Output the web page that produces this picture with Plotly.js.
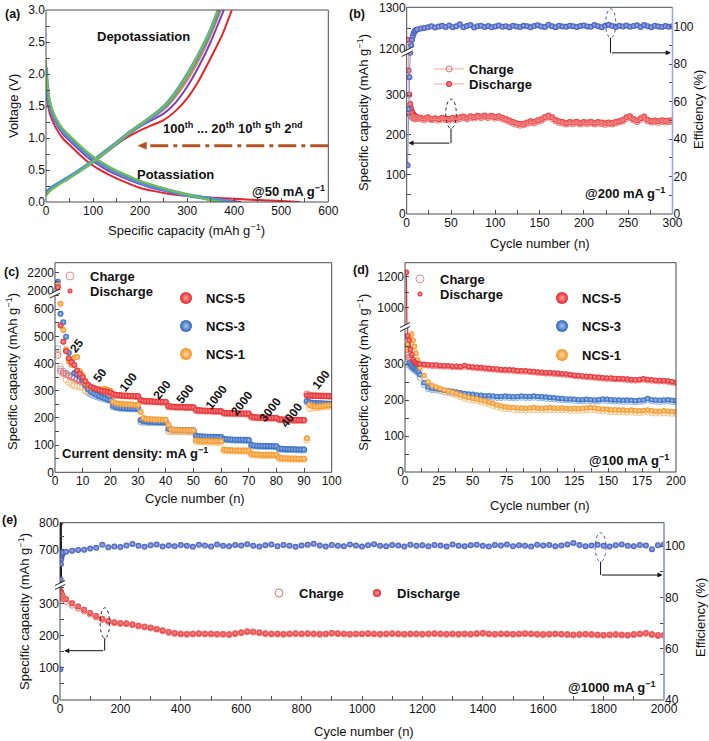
<!DOCTYPE html>
<html><head><meta charset="utf-8">
<script src="https://cdn.plot.ly/plotly-3.0.1.min.js"></script>
<style>html,body{margin:0;padding:0;background:#fff}#chart{width:709px;height:741px}</style>
</head><body><div id="chart"></div>
<script>
// ================= DATA =================
// (a) galvanostatic profiles @50 mA g-1 : capacity (mAh g-1) vs voltage (V)
const aRedDisCap=[0,2,5,10,20,35,50,70,90,110,130,150,175,200,230,260,300,350,400,450,500,540];
const aRedDisV=[1.8,1.62,1.48,1.34,1.17,1.0,0.89,0.75,0.62,0.52,0.44,0.37,0.29,0.22,0.17,0.13,0.095,0.07,0.05,0.03,0.015,0.0];
const aPurDisCap=[0,2,5,10,20,35,50,70,90,110,130,150,175,200,230,260,300,340,380,415];
const aPurDisV=[2.0,1.75,1.58,1.42,1.24,1.07,0.96,0.82,0.69,0.59,0.5,0.43,0.35,0.28,0.21,0.16,0.1,0.06,0.03,0.0];
const aOrgDisCap=[0,2,5,10,20,35,50,70,90,110,130,150,175,200,230,260,300,340,375,400];
const aOrgDisV=[2.05,1.78,1.6,1.45,1.27,1.1,0.99,0.85,0.72,0.62,0.53,0.45,0.37,0.3,0.23,0.17,0.1,0.055,0.02,0.0];
const aBluDisCap=[0,2,5,10,20,35,50,70,90,110,130,150,175,200,230,260,300,340,375,395];
const aBluDisV=[2.1,1.82,1.63,1.47,1.29,1.12,1.01,0.87,0.74,0.64,0.55,0.47,0.39,0.31,0.24,0.18,0.11,0.06,0.02,0.0];
const aGrnDisCap=[0,2,5,10,20,35,50,70,90,110,130,150,175,200,230,260,300,330,355,375];
const aGrnDisV=[2.22,1.9,1.7,1.52,1.33,1.15,1.04,0.9,0.77,0.66,0.57,0.49,0.41,0.33,0.26,0.19,0.12,0.06,0.02,0.0];
const aRedChgCap=[0,10,25,50,75,100,125,150,175,200,225,250,275,300,325,350,375,395];
const aRedChgV=[0.13,0.2,0.27,0.38,0.5,0.62,0.76,0.9,1.02,1.12,1.2,1.28,1.42,1.62,1.9,2.25,2.62,3.0];
const aPurChgCap=[0,10,25,50,75,100,125,150,175,200,225,250,275,300,325,350,378];
const aPurChgV=[0.15,0.22,0.29,0.4,0.52,0.64,0.78,0.92,1.06,1.18,1.28,1.38,1.55,1.8,2.12,2.5,3.0];
const aOrgChgCap=[0,10,25,50,75,100,125,150,175,200,225,250,275,300,325,350,372];
const aOrgChgV=[0.14,0.21,0.28,0.39,0.51,0.64,0.78,0.92,1.07,1.19,1.31,1.44,1.64,1.9,2.22,2.6,3.0];
const aBluChgCap=[0,10,25,50,75,100,125,150,175,200,225,250,275,300,325,350,367];
const aBluChgV=[0.14,0.21,0.28,0.39,0.51,0.64,0.78,0.92,1.07,1.2,1.33,1.48,1.7,1.98,2.3,2.68,3.0];
const aGrnChgCap=[0,10,25,50,75,100,125,150,175,200,225,250,275,300,325,350,365];
const aGrnChgV=[0.1,0.18,0.26,0.38,0.5,0.63,0.77,0.92,1.07,1.21,1.34,1.49,1.7,1.98,2.32,2.7,3.0];

// cycle index helper (cycle numbers only)
function seq(a,b,s){const r=[];for(let v=a;v<=b+1e-9;v+=s)r.push(v);return r;}

// (b) cycling @200 mA g-1
const bCyc=seq(1,10,1).concat(seq(12,300,4));
const bDis=[1222,362,302,278,266,258,254,250,248,246,
245,243,241,244,240,242,239,243,241,240,
243,241,244,246,243,247,245,248,246,249,
246,248,245,247,243,240,236,232,229,227,
228,231,234,233,237,239,245,249,244,238,
234,232,230,232,231,233,230,232,231,233,
230,232,231,229,231,230,233,235,238,244,
247,240,236,242,246,238,235,236,234,237,
235,236,237];
const bChg=[262,258,254,250,247,245,243,242,241,240,
242,240,238,241,238,239,237,240,238,237,
240,238,241,243,240,244,242,245,243,246,
243,245,242,244,240,237,233,229,226,224,
225,228,231,230,234,236,242,246,241,235,
231,229,227,229,228,230,227,229,228,230,
227,229,228,226,228,227,230,232,235,241,
244,237,233,239,243,235,232,233,231,234,
232,233,234];
const bEff=[26,56,73,86,90,93,95,96.5,97.5,98,
98.5,99,99.3,99.6,100.2,99.5,100,100.4,99.8,100.6,
99.7,100.2,101.2,99.6,100.3,100.8,99.5,100.2,100.5,99.8,
100.3,99.6,100.1,100.6,99.9,100.2,99.7,100.4,100.1,99.8,
100.5,100.2,99.6,100.3,100.7,100.1,99.8,101,100.2,99.7,
100.4,100.1,99.9,100.5,100.2,99.8,100.3,100.6,100.1,99.9,
100.8,100.2,99.7,100.4,101,100.3,99.8,100.5,100.1,100.6,
99.9,100.3,100.7,99.8,100.9,100.2,99.7,100.4,100.1,99.8,
100.3,99.9,100.2];

// (c) rate performance, cycles 1-100
const cCyc=seq(1,100,1);
const cRateLabels=['25','50','100','200','500','1000','2000','3000','4000','100'];
const c5Dis=[2040,540,480,445,420,405,395,375,362,350,
335,322,315,310,306,303,300,298,296,294,
288,285,284,283,282,282,281,281,280,280,
266,263,262,261,261,260,260,260,259,259,
244,242,241,241,240,240,240,239,239,239,
230,228,227,227,226,226,226,225,225,225,
219,218,218,217,217,217,216,216,216,216,
205,203,202,202,201,201,201,200,200,200,
195,194,194,193,193,193,193,192,192,192,
283,282,282,281,281,281,280,280,280,280];
const c5Chg=[430,372,365,360,355,350,345,340,336,332,
320,312,308,304,300,298,296,294,292,291,
284,283,282,282,281,281,280,280,279,279,
262,261,260,260,259,259,259,258,258,258,
241,240,240,239,239,239,238,238,238,238,
227,226,226,225,225,225,224,224,224,224,
217,216,216,216,215,215,215,215,214,214,
202,201,201,200,200,200,199,199,199,199,
193,193,192,192,192,191,191,191,191,191,
288,284,283,282,282,281,281,281,280,280];
const c3Dis=[2100,583,552,499,440,410,365,360,352,340,
320,305,296,290,285,280,276,272,268,265,
245,240,238,237,236,236,235,235,234,234,
192,188,187,186,186,185,185,184,184,184,
160,158,157,157,156,156,156,155,155,155,
135,133,132,132,131,131,131,130,130,130,
123,122,121,121,120,120,120,120,119,119,
100,99,98,98,97,97,97,97,96,96,
88,87,86,85,85,85,84,84,84,84,
262,258,256,255,254,254,253,253,252,252];
const c3Chg=[455,380,372,365,358,352,348,344,340,336,
300,292,286,282,278,275,272,269,266,264,
240,238,236,235,235,234,234,233,233,233,
185,184,184,183,183,183,182,182,182,182,
152,152,151,151,151,150,150,150,150,150,
131,130,130,129,129,129,129,128,128,128,
120,119,119,118,118,118,118,117,117,117,
97,96,96,95,95,95,95,94,94,94,
85,84,84,83,83,83,83,82,82,82,
258,255,254,253,252,252,251,251,251,250];
const c1Dis=[2060,620,524,452,408,396,422,424,372,356,
330,318,312,310,308,306,305,307,304,300,
260,254,252,251,250,250,249,249,248,248,
222,200,196,195,195,194,194,194,193,193,
175,158,156,156,155,155,155,155,154,154,
118,116,115,115,115,114,114,114,114,114,
84,82,81,81,80,80,80,80,80,80,
68,66,66,65,65,65,65,65,64,64,
54,52,52,51,51,51,51,50,50,50,
125,248,244,242,242,243,244,246,247,248];
const c1Chg=[440,390,360,340,330,322,318,316,314,312,
300,296,294,293,292,291,290,290,289,288,
245,243,242,241,241,240,240,240,239,239,
190,188,188,187,187,187,186,186,186,186,
152,150,150,149,149,149,149,148,148,148,
113,112,112,111,111,111,111,110,110,110,
80,79,79,78,78,78,78,78,77,77,
64,63,63,63,62,62,62,62,62,62,
50,49,49,49,48,48,48,48,48,48,
118,235,236,237,238,239,240,241,242,243];

// (d) cycling @100 mA g-1
const dCyc=seq(1,10,1).concat(seq(11,200,3));
const d5Dis=[1230,378,366,340,326,312,306,303,301,300,
300,299,298,297,297,296,295,295,294,294,
293,296,293,292,291,290,289,288,287,286,
285,284,284,283,282,281,281,280,279,278,
277,276,276,275,274,273,272,271,269,268,
267,266,265,264,263,262,261,261,260,260,
259,258,257,256,257,259,257,256,255,254,
254,253,251,249];
const d5Chg=[330,325,318,312,308,304,302,300,299,298,
298,297,296,295,295,294,293,293,292,292,
291,293,291,290,289,288,287,286,285,284,
283,282,282,281,280,279,279,278,277,276,
275,274,274,273,272,271,270,269,267,266,
265,264,263,262,261,260,259,259,258,258,
257,256,255,254,255,257,255,254,253,252,
252,251,249,247];
const d3Dis=[377,350,303,298,294,290,287,285,282,278,
270,248,236,232,231,229,227,226,224,222,
220,218,217,216,214,213,212,212,211,210,
210,211,210,209,210,211,210,210,211,210,
209,208,207,206,205,204,203,203,202,201,
201,202,201,200,201,203,202,201,200,200,
199,200,199,198,199,200,204,201,200,199,
200,201,199,198];
const d3Chg=[300,318,296,292,289,285,282,280,277,273,
262,242,231,228,227,225,223,222,220,218,
216,214,213,212,210,209,208,208,207,206,
206,207,206,205,206,207,206,206,207,206,
205,204,203,202,201,200,199,199,198,197,
197,198,197,196,197,199,198,197,196,196,
195,196,195,194,195,196,200,197,196,195,
196,197,195,194];
const d1Dis=[340,355,368,378,383,366,349,330,312,300,
290,268,250,240,236,232,228,225,222,218,
214,210,207,205,203,200,197,194,190,186,
183,181,180,179,178,178,177,178,179,178,
177,178,179,178,177,178,177,176,177,176,
177,178,179,178,176,175,174,173,173,172,
172,171,172,171,170,171,172,170,169,169,
170,169,168,168];
const d1Chg=[300,330,345,350,352,345,335,320,305,292,
282,260,243,234,230,226,222,219,216,212,
208,204,201,199,197,194,191,188,184,180,
177,175,174,173,172,172,171,172,173,172,
171,172,173,172,171,172,171,170,171,170,
171,172,173,172,170,169,168,167,167,166,
166,165,166,165,164,165,166,164,163,163,
164,163,162,162];

// (e) long cycling @1000 mA g-1
const eCyc=[1,2,3,4,5,6,8,10].concat(seq(20,2000,20));
const eDis=[800,340,336,333,330,328,325,322,
315,302,292,282,272,262,254,247,243,240,
239,236,232,229,226,222,217,212,209,207,
206,207,208,207,207,206,206,205,208,211,
214,213,211,208,207,207,206,207,208,207,
208,207,206,207,209,208,207,206,207,207,
208,207,206,207,208,207,206,207,207,206,
207,208,207,206,207,206,207,206,208,209,
207,206,207,207,206,207,208,207,206,205,
206,207,206,205,204,205,206,205,204,203,
204,205,204,203,205,207,209,205,202,203];
const eChg=[318,330,328,326,324,322,319,316,
308,296,287,278,268,259,251,245,241,239,
238,235,231,228,225,221,216,211,208,206,
205,206,207,206,206,205,205,204,207,210,
213,212,210,207,206,206,205,206,207,206,
207,206,205,206,208,207,206,205,206,206,
207,206,205,206,207,206,205,206,206,205,
206,207,206,205,206,205,206,205,207,208,
206,205,206,206,205,206,207,206,205,204,
205,206,205,204,203,204,205,204,203,202,
203,204,203,202,204,206,208,204,201,202];
const eEff=[52,87,93,95,96,96.5,97,97.5,
97.8,98.2,98.5,98.6,99,99.3,100.5,99.5,99.8,99.6,
100.2,100.8,100.1,99.7,100.3,100.6,99.8,100.2,99.9,100.4,
100.1,99.7,100.5,100.2,99.8,100.6,100.1,99.9,100.4,100.2,
100.7,100.1,99.8,100.3,100.6,99.9,100.4,100.1,99.7,100.2,
100.5,100.9,100.2,99.8,100.4,100.1,99.9,100.6,100.2,99.8,
100.3,100.7,100.1,99.9,100.4,100.2,99.8,100.5,100.1,100.3,
99.9,100.4,100.2,99.8,100.6,100.1,99.9,100.3,100.5,100.1,
99.8,100.4,100.2,100.6,99.9,100.3,100.1,99.8,100.5,100.2,
100.4,99.9,100.2,100.6,101.2,100.4,99.9,100.2,100.5,100.1,
99.8,100.3,100.6,100.1,99.9,100.4,100.2,98.8,100.3,100.6];

// ================= STYLE / LAYOUT =================
const W=709,H=741;
const X=p=>p/W, Y=p=>1-p/H;
const FONT='"Liberation Sans", Arial, Helvetica, sans-serif';
const AXC='#4a4a4a';
const RED='#e3262b', RED_C='#ff9e9e', RED_O='#ee6e6e', RED_L='#f3a3a3';
const BLU='#2b63b8', BLU_C='#a8c6f2', BLU_O='#86aee3';
const ORG='#f5901e', ORG_C='#ffdba6', ORG_O='#f8bf7f';
const EFF='#3d55b6', EFF_C='#aab8f0', EFF_AX='#9aa9dc';

function ax(o){return Object.assign({showgrid:false,zeroline:false,showline:false,ticks:'inside',ticklen:4,tickwidth:1,tickcolor:AXC,tickfont:{family:FONT,size:12,color:'#111'},fixedrange:true},o);}
function mn(o){return Object.assign({ticks:'inside',ticklen:4,tickwidth:1,tickcolor:AXC,showgrid:false},o);}
function tr(x,y,xa,ya,o){return Object.assign({type:'scatter',x:x,y:y,xaxis:xa,yaxis:ya,showlegend:false,hoverinfo:'skip'},o);}
function fillM(c,cc,s){return {symbol:'circle',size:s,color:c,gradient:{type:'radial',color:cc},line:{width:0}};}
function openM(c,s){return {symbol:'circle-open',size:s,color:c,line:{width:1,color:c}};}

const traces=[];
// ---- (a)
const aCurves=[
 [aRedDisCap,aRedDisV,aRedChgCap,aRedChgV,'#e8242a',2],
 [aPurDisCap,aPurDisV,aPurChgCap,aPurChgV,'#7d3fc0',2],
 [aOrgDisCap,aOrgDisV,aOrgChgCap,aOrgChgV,'#f0883a',2],
 [aBluDisCap,aBluDisV,aBluChgCap,aBluChgV,'#4c92d8',4],
 [aGrnDisCap,aGrnDisV,aGrnChgCap,aGrnChgV,'#78c043',2]];
aCurves.forEach(c=>{
  traces.push(tr(c[0],c[1],'x','y',{mode:'lines',line:{color:c[4],width:c[5],shape:'spline',smoothing:0.6}}));
  traces.push(tr(c[2],c[3],'x','y',{mode:'lines',line:{color:c[4],width:c[5],shape:'spline',smoothing:0.6}}));
});
// ---- (b)
['y2','y3'].forEach((ya,i)=>{
  traces.push(tr(bCyc,bDis,'x2',ya,{mode:'lines+markers',name:'<b>Discharge</b>',line:{color:RED_L,width:1},marker:fillM(RED,RED_C,6),showlegend:i===0,legend:'legend2'}));
  traces.push(tr(bCyc,bChg,'x2',ya,{mode:'lines+markers',name:'<b>Charge</b>',line:{color:RED_L,width:1},marker:openM(RED_O,6),showlegend:i===0,legend:'legend'}));
});
traces.push(tr(bCyc,bEff,'x2','y4',{mode:'lines+markers',line:{color:'#7f8fd8',width:1},marker:fillM(EFF,EFF_C,6)}));
// ---- (c)
const cSets=[[c3Dis,c3Chg,BLU,BLU_C,BLU_O],[c1Dis,c1Chg,ORG,ORG_C,ORG_O],[c5Dis,c5Chg,RED,RED_C,RED_O]];
['y5','y6'].forEach(ya=>{
  cSets.forEach(s=>traces.push(tr(cCyc,s[1],'x3',ya,{mode:'markers',marker:openM(s[4],6)})));
  cSets.forEach(s=>traces.push(tr(cCyc,s[0],'x3',ya,{mode:'markers',marker:fillM(s[2],s[3],6)})));
});
// ---- (d)
const dSets=[[d3Dis,d3Chg,BLU,BLU_C,BLU_O,'markers'],[d1Dis,d1Chg,ORG,ORG_C,ORG_O,'markers'],[d5Dis,d5Chg,RED,RED_C,RED_O,'lines+markers']];
['y7','y8'].forEach(ya=>{
  dSets.forEach(s=>traces.push(tr(dCyc,s[1],'x4',ya,{mode:'markers',marker:openM(s[4],5.5)})));
  dSets.forEach(s=>traces.push(tr(dCyc,s[0],'x4',ya,{mode:s[5],line:{color:RED,width:1.2},marker:fillM(s[2],s[3],5.5)})));
});
// ---- (e)
['y9','y10'].forEach(ya=>{
  traces.push(tr(eCyc,eDis,'x5',ya,{mode:'markers',marker:fillM(RED,RED_C,6)}));
  traces.push(tr(eCyc,eChg,'x5',ya,{mode:'markers',marker:openM(RED_O,6)}));
});
traces.push(tr(eCyc.slice(0,2),eDis.slice(0,2),'x5','y10',{mode:'lines',line:{color:'#000',width:3}}));
traces.push(tr(eCyc,eEff,'x5','y11',{mode:'markers',marker:fillM(EFF,EFF_C,6)}));

// ---- legend dummy entries
function dummy(name,marker,legend){return {type:'scatter',x:[null],y:[null],xaxis:'x3',yaxis:'y5',mode:'markers',name:name,marker:marker,showlegend:true,legend:legend,hoverinfo:'skip'};}
traces.push(dummy('<b>Charge</b>',openM('#f08a8a',8),'legend3'));
traces.push(dummy('<b>Discharge</b>',fillM(RED,RED_C,5),'legend4'));
traces.push(dummy('<b>NCS-5</b>',fillM(RED,RED_C,12),'legend5'));
traces.push(dummy('<b>NCS-3</b>',fillM(BLU,BLU_C,12),'legend6'));
traces.push(dummy('<b>NCS-1</b>',fillM(ORG,ORG_C,12),'legend7'));
traces.push(dummy('<b>Charge</b>',openM('#f08a8a',8),'legend8'));
traces.push(dummy('<b>Discharge</b>',fillM(RED,RED_C,5),'legend9'));
traces.push(dummy('<b>NCS-5</b>',fillM(RED,RED_C,12),'legend10'));
traces.push(dummy('<b>NCS-3</b>',fillM(BLU,BLU_C,12),'legend11'));
traces.push(dummy('<b>NCS-1</b>',fillM(ORG,ORG_C,12),'legend12'));
traces.push(dummy('<b>Charge</b>',openM(RED_O,8),'legend13'));
traces.push(dummy('<b>Discharge</b>',fillM(RED,RED_C,8),'legend14'));

function lg(xpx,ypx){return {x:X(xpx),y:Y(ypx),xanchor:'left',yanchor:'middle',bgcolor:'rgba(0,0,0,0)',borderwidth:0,font:{family:FONT,size:13,color:'#111'},itemclick:false,itemdoubleclick:false};}

const layout={
  width:W,height:H,autosize:false,margin:{l:0,r:0,t:0,b:0,pad:0},
  paper_bgcolor:'#fff',plot_bgcolor:'rgba(0,0,0,0)',font:{family:FONT,size:12,color:'#111'},
  showlegend:true,
  // (a)
  xaxis:ax({domain:[X(46),X(328.3)],range:[0,600],anchor:'y',tickmode:'linear',tick0:0,dtick:100,minor:mn({dtick:50,tick0:0})}),
  yaxis:ax({domain:[Y(202),Y(10)],range:[0,3],anchor:'x',tickmode:'linear',tick0:0,dtick:0.5,tickformat:'.1f',minor:mn({dtick:0.25,tick0:0})}),
  // (b)
  xaxis2:ax({domain:[X(406.7),X(672.5)],range:[0,300],anchor:'y2',tickmode:'linear',tick0:0,dtick:50,minor:mn({dtick:25,tick0:0})}),
  yaxis2:ax({domain:[Y(214),Y(53)],range:[0,406.5],anchor:'x2',tickmode:'array',tickvals:[0,100,200,300],minor:mn({tickmode:'array',tickvals:[50,150,250,350]})}),
  yaxis3:ax({domain:[Y(50),Y(7.3)],range:[1197.6,1300],anchor:'x2',tickmode:'array',tickvals:[1200,1300],minor:mn({tickmode:'array',tickvals:[1250]})}),
  yaxis4:ax({domain:[Y(214),Y(7.3)],range:[0,110.3],anchor:'x2',side:'right',tickmode:'array',tickvals:[0,20,40,60,80,100],minor:mn({tickmode:'array',tickvals:[10,30,50,70,90]})}),
  // (c)
  xaxis3:ax({domain:[X(55),X(331.7)],range:[0,100],anchor:'y5',tickmode:'linear',tick0:0,dtick:10}),
  yaxis5:ax({domain:[Y(472.3),Y(294)],range:[0,656],anchor:'x3',tickmode:'array',tickvals:[0,100,200,300,400,500,600],minor:mn({tickmode:'array',tickvals:[50,150,250,350,450,550,650]})}),
  yaxis6:ax({domain:[Y(291.5),Y(262.7)],range:[1995,2303],anchor:'x3',tickmode:'array',tickvals:[2000,2200],minor:mn({tickmode:'array',tickvals:[2100]})}),
  // (d)
  xaxis4:ax({domain:[X(405),X(676)],range:[0,200],anchor:'y7',tickmode:'linear',tick0:0,dtick:25,minor:mn({dtick:12.5,tick0:0})}),
  yaxis7:ax({domain:[Y(472),Y(328)],range:[0,400],anchor:'x4',tickmode:'array',tickvals:[0,100,200,300],minor:mn({tickmode:'array',tickvals:[50,150,250,350]})}),
  yaxis8:ax({domain:[Y(325),Y(262.7)],range:[887,1293],anchor:'x4',tickmode:'array',tickvals:[1000,1200],minor:mn({tickmode:'array',tickvals:[1100]})}),
  // (e)
  xaxis5:ax({domain:[X(60),X(664)],range:[0,2000],anchor:'y9',tickmode:'linear',tick0:0,dtick:200,minor:mn({dtick:100,tick0:0})}),
  yaxis9:ax({domain:[Y(700),Y(586)],range:[0,356],anchor:'x5',tickmode:'array',tickvals:[0,100,200,300],minor:mn({tickmode:'array',tickvals:[50,150,250,350]})}),
  yaxis10:ax({domain:[Y(583),Y(522.7)],range:[579,800],anchor:'x5',tickmode:'array',tickvals:[700,800],minor:mn({tickmode:'array',tickvals:[750]})}),
  yaxis11:ax({domain:[Y(700),Y(522.7)],range:[40,109.1],anchor:'x5',side:'right',tickmode:'array',tickvals:[40,60,80,100],minor:mn({tickmode:'array',tickvals:[50,70,90]})}),
  legend:lg(429,69), legend2:lg(429,84),
  legend3:lg(50,276), legend4:lg(50,291),
  legend5:lg(166,298), legend6:lg(166,326), legend7:lg(166,354),
  legend8:lg(400,279), legend9:lg(400,294),
  legend10:lg(542,298), legend11:lg(542,326), legend12:lg(542,355),
  legend13:lg(259,593), legend14:lg(357,593)
};

// ---- shapes
const shapes=[];
function frame(x0,y0,x1,y1){shapes.push({type:'rect',xref:'paper',yref:'paper',x0:X(x0),x1:X(x1),y0:Y(y1),y1:Y(y0),line:{color:AXC,width:1},fillcolor:'rgba(0,0,0,0)'});}
function vline(x,y0,y1,c,w){shapes.push({type:'line',xref:'paper',yref:'paper',x0:X(x),x1:X(x),y0:Y(y0),y1:Y(y1),line:{color:c,width:w}});}
function brk(xp,yp){
  const p=(a,b)=>X(a)+' '+Y(b);
  shapes.push({type:'path',xref:'paper',yref:'paper',path:'M '+p(xp-5,yp)+' L '+p(xp+5,yp-5)+' L '+p(xp+5,yp-1)+' L '+p(xp-5,yp+4)+' Z',fillcolor:'#fff',line:{width:0}});
  shapes.push({type:'line',xref:'paper',yref:'paper',x0:X(xp-5),y0:Y(yp),x1:X(xp+5),y1:Y(yp-5),line:{color:'#222',width:1}});
  shapes.push({type:'line',xref:'paper',yref:'paper',x0:X(xp-5),y0:Y(yp+4),x1:X(xp+5),y1:Y(yp-1),line:{color:'#222',width:1}});
}
frame(46,10,328.3,202);
frame(406.7,7.3,672.5,214); vline(672.5,214,7.3,EFF_AX,1.6);
frame(55,262.7,331.7,472.3);
frame(405,262.7,676,472);
frame(60,522.7,664,700); vline(664,700,522.7,EFF_AX,1.6);
brk(406.7,52.5); brk(55,294); brk(405,327.5); brk(60,585.5);
// (a) arrow dash-dot
shapes.push({type:'line',xref:'x',yref:'y',x0:600,x1:210,y0:0.88,y1:0.88,line:{color:'#b5531f',width:3,dash:'18px,5px,4px,5px'}});
shapes.push({type:'path',xref:'x',yref:'y',path:'M 194 0.88 L 214 0.94 L 214 0.82 Z',fillcolor:'#b5531f',line:{width:0}});
// ellipses + leader lines
function ell(xr,yr,x0,x1,y0,y1,c){shapes.push({type:'circle',xref:xr,yref:yr,x0:x0,x1:x1,y0:y0,y1:y1,line:{color:c,width:1,dash:'dot'}});}
function seg(xr,yr,x0,y0,x1,y1){shapes.push({type:'line',xref:xr,yref:yr,x0:x0,x1:x1,y0:y0,y1:y1,line:{color:'#111',width:1}});}
ell('x2','y2',44,56,216,290,'#222'); seg('x2','y2',50,216,50,179);
ell('x2','y4',224.5,236,94,109.5,EFF); seg('x2','y4',230,94,230,86);
ell('x5','y9',133,164,193,288,'#222'); seg('x5','y9',148,193,148,154);
ell('x5','y11',1772,1808,93.9,105.2,EFF); seg('x5','y11',1790,93.9,1790,88.7);
layout.shapes=shapes;

// ---- annotations
const anns=[];
function A(text,xpx,ypx,o){anns.push(Object.assign({text:text,x:X(xpx),y:Y(ypx),xref:'paper',yref:'paper',showarrow:false,xanchor:'center',yanchor:'middle',font:{family:FONT,size:13,color:'#111'}},o||{}));}
function D(text,xr,yr,x,y,o){anns.push(Object.assign({text:text,x:x,y:y,xref:xr,yref:yr,showarrow:false,xanchor:'center',yanchor:'middle',font:{family:FONT,size:13,color:'#111'}},o||{}));}
function arrow(xr,yr,x,y,ax,ay){anns.push({text:'',x:x,y:y,ax:ax,ay:ay,xref:xr,yref:yr,axref:xr,ayref:yr,showarrow:true,arrowhead:2,arrowsize:1,arrowwidth:1,arrowcolor:'#111',standoff:0,startstandoff:0});}
const SUP='<sup>−1</sup>';
// panel labels
A('<b>(a)</b>',12,14,{font:{family:FONT,size:12.5,color:'#111'}});
A('<b>(b)</b>',357,14,{font:{family:FONT,size:12.5,color:'#111'}});
A('<b>(c)</b>',11,272,{font:{family:FONT,size:12.5,color:'#111'}});
A('<b>(d)</b>',361,270,{font:{family:FONT,size:12.5,color:'#111'}});
A('<b>(e)</b>',9,520,{font:{family:FONT,size:12.5,color:'#111'}});
// axis titles
A('Voltage (V)',13,106,{textangle:-90});
A('Specific capacity (mAh g'+SUP+')',187,230);
A('Specific capacity (mAh g'+SUP+')',363,113,{textangle:-90});
A('Efficiency (%)',698,110,{textangle:-90});
A('Cycle number (n)',540,243);
A('Specific capacity (mAh g'+SUP+')',12,372,{textangle:-90});
A('Cycle number (n)',195,498);
A('Specific capacity (mAh g'+SUP+')',362.7,372,{textangle:-90});
A('Cycle number (n)',540,505);
A('Specific capacity (mAh g'+SUP+')',24,612,{textangle:-90});
A('Efficiency (%)',700,618,{textangle:-90});
A('Cycle number (n)',364,731);
// (a) texts
D('<b>Depotassiation</b>','x','y',207,2.58);
D('<b>Potassiation</b>','x','y',276,0.43);
D('<b>@50 mA g'+SUP+'</b>','x','y',516,0.17);
D('<b>100<sup>th</sup> ... 20<sup>th</sup> 10<sup>th</sup> 5<sup>th</sup> 2<sup>nd</sup></b>','x','y',398,1.16);
// (b)
A('<b>@200 mA g'+SUP+'</b>',625,193);
arrow('x2','y2',2,179,50,179);
arrow('x2','y4',298,86,230,86);
// (c)
const cLabPos=[[7.8,465],[16.3,358],[26.5,333],[38.6,303],[47,288],[58.4,276],[67.5,256],[77.7,229],[85.5,211],[96,340]];
cRateLabels.forEach((t,i)=>D('<b>'+t+'</b>','x3','y5',cLabPos[i][0],cLabPos[i][1],{textangle:-52,font:{family:FONT,size:12,color:'#111'}}));
A('<b>Current density: mA g'+SUP+'</b>',135,453);
// (d)
A('<b>@100 mA g'+SUP+'</b>',629,460);
// (e)
A('<b>@1000 mA g'+SUP+'</b>',612,687);
arrow('x5','y9',14,154,148,154);
arrow('x5','y11',1995,88.7,1790,88.7);
layout.annotations=anns;

Plotly.newPlot('chart',traces,layout,{displayModeBar:false,staticPlot:true});
</script></body></html>
